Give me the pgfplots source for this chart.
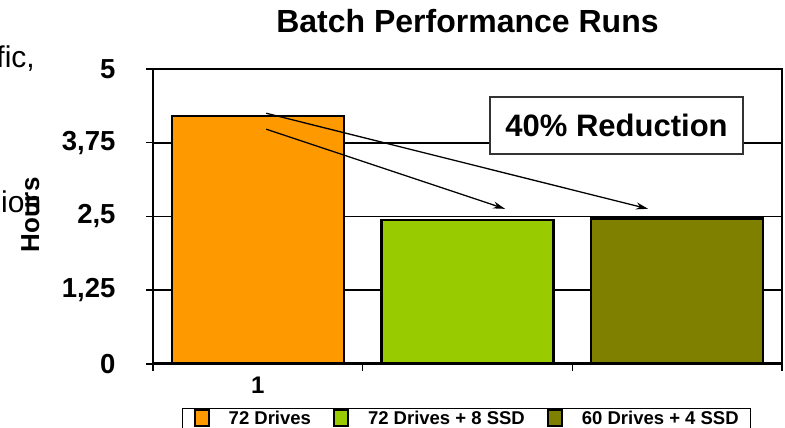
\documentclass[border=0pt]{standalone}
\usepackage{pgfplots}
\pgfplotsset{compat=1.18}
\usepackage{fontspec}
\setmainfont{Liberation Sans}
\usetikzlibrary{arrows.meta}
\definecolor{cOrange}{HTML}{FF9900}
\definecolor{cLime}{HTML}{99CC00}
\definecolor{cOlive}{HTML}{808000}
\newcommand{\fs}[1]{\fontsize{#1bp}{#1bp}\selectfont}
\begin{document}
\begin{tikzpicture}
\path[use as bounding box] (0bp,0bp) rectangle (785bp,428bp);
\clip (0bp,0bp) rectangle (785bp,428bp);
\node[anchor=base east, inner sep=0pt, font=\fs{30}] at (35bp,360bp) {fic,};
\node[anchor=base west, inner sep=0pt, font=\fs{30}] at (1bp,215bp) {ion};
\begin{axis}[
  at={(153bp,64bp)}, anchor=south west,
  width=629bp, height=295bp, scale only axis,
  xmin=-0.5, xmax=2.5, ymin=0, ymax=5,
  ybar,
  legend image code/.code={%
    \path[draw=none, fill=none] (0bp,0bp) -- (46bp,0bp);
    \draw[#1, line width=2.2bp] (12bp,-8bp) rectangle (26bp,8bp);},
  axis line style={line width=1.5bp},
  ytick={0,1.25,2.5,3.75,5},
  yticklabels={0,{1,25},{2,5},{3,75},5},
  xtick={-0.5,0.5,1.5,2.5},
  xticklabels={},
  extra x ticks={0},
  extra x tick labels={1},
  extra x tick style={major tick length=0pt, grid=none,
    xticklabel style={font=\bfseries\fs{24}, yshift=-9bp}},
  tick align=outside,
  major tick length=7bp,
  every tick/.style={black, line width=1.5bp},
  xtick pos=bottom, ytick pos=left,
  ymajorgrids,
  major grid style={black, line width=1.8bp},
  yticklabel style={font=\bfseries\fs{27.5}, xshift=-27bp},
  ylabel={Hours},
  ylabel style={font=\bfseries\fs{26}, at={(rel axis cs:-0.195,0.505)}, anchor=center},
  title={Batch Performance Runs},
  title style={font=\bfseries\fs{32}, at={(rel axis cs:0.5,1)}, anchor=center, yshift=42bp},
  legend columns=3,
  legend style={at={(rel axis cs:0.0461,-0.1475)}, anchor=north west,
    draw=black, line width=1.5bp, inner xsep=0pt, inner ysep=1bp,
    font=\bfseries\fs{18.5},
    nodes={inner xsep=0pt, inner ysep=1bp},
    /tikz/every even column/.append style={column sep=11bp}},
]
\addplot[bar shift=0pt, bar width=172bp, fill=cOrange, draw=black, line width=2.5bp] coordinates {(0,4.2)};
\addlegendentry{72 Drives}
\addplot[bar shift=0pt, bar width=172bp, fill=cLime, draw=black, line width=2.5bp] coordinates {(1,2.44)};
\addlegendentry{72 Drives + 8 SSD}
\addplot[bar shift=0pt, bar width=172bp, fill=cOlive, draw=black, line width=2.5bp] coordinates {(2,2.47)};
\addlegendentry{60 Drives + 4 SSD\hspace*{12bp}}
\draw[line width=3bp] (rel axis cs:0,0) -- (rel axis cs:1,0);
\draw[line width=2.5bp] (rel axis cs:0,0) -- (rel axis cs:0,1);
\draw[line width=1.3bp, -{Stealth[length=12bp,width=7bp]}] (axis cs:0.04,4.25) -- (axis cs:1.861,2.63);
\draw[line width=1.3bp, -{Stealth[length=12bp,width=7bp]}] (axis cs:0.04,3.98) -- (axis cs:1.179,2.63);
\node[draw=black!80, line width=1.5bp, fill=white, minimum width=253bp, minimum height=57bp,
  font=\bfseries\fs{31}] at (axis cs:1.711,4.042) {40\% Reduction};
\end{axis}
\end{tikzpicture}
\end{document}
